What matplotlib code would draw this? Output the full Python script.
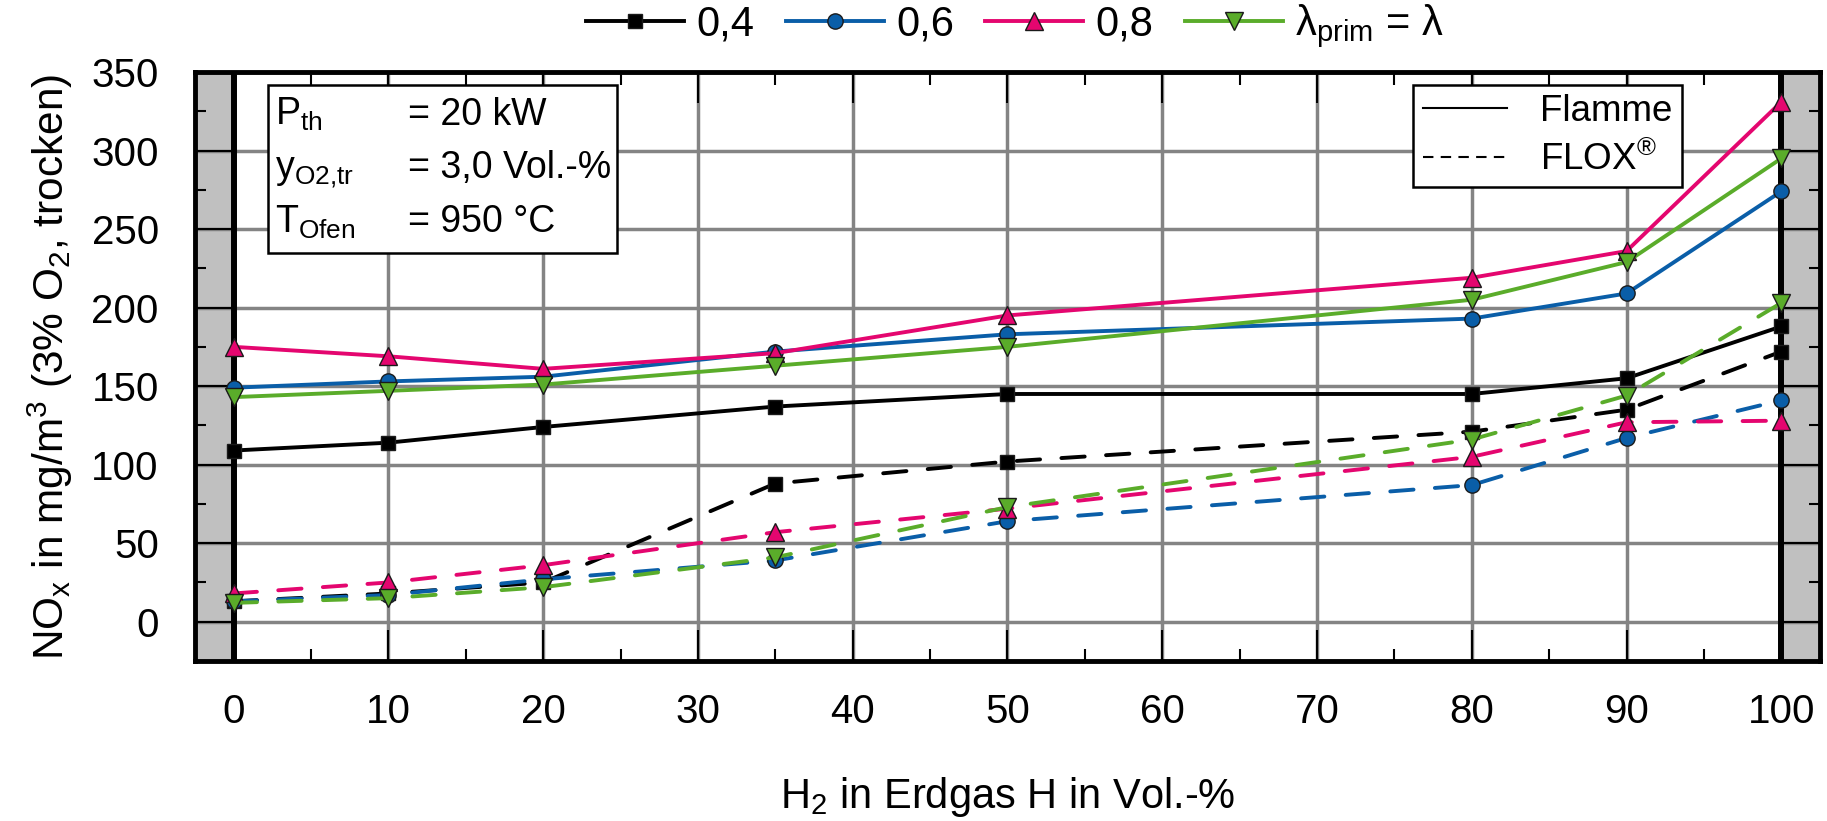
import matplotlib
matplotlib.use('Agg')
import matplotlib.pyplot as plt
from matplotlib.lines import Line2D
from matplotlib.patches import Rectangle
from matplotlib.ticker import MultipleLocator

plt.rcParams['font.family'] = ['Liberation Sans', 'DejaVu Sans']
plt.rcParams['mathtext.fontset'] = 'custom'
plt.rcParams['mathtext.rm'] = 'Liberation Sans'
plt.rcParams['mathtext.it'] = 'Liberation Sans'
plt.rcParams['mathtext.default'] = 'regular'
plt.rcParams['font.size'] = 30

# H2-Anteil im Erdgas in Vol.-%
h2 = [0, 10, 20, 35, 50, 80, 90, 100]

# NOx in mg/m3, Flamme
flamme_04 = [109, 114, 124, 137, 145, 145, 155, 188]
flamme_06 = [149, 153, 156, 172, 183, 193, 209, 274]
flamme_08 = [175, 169, 161, 171, 195, 219, 236, 331]
flamme_lam = [143, 147, 151, 163, 175, 205, 229, 295]

# NOx in mg/m3, FLOX
flox_04 = [13, 18, 25, 88, 102, 121, 135, 172]
flox_06 = [13, 17, 27, 39, 64, 87, 117, 141]
flox_08 = [18, 25, 36, 57, 72, 105, 127, 128]
flox_lam = [12, 15, 22, 41, 73, 116, 144, 203]

labels = ['0,4', '0,6', '0,8', r'λ$_\mathregular{prim}$ = λ']
colors = ['black', '#0a5ea8', '#e4066f', '#5aac2a']
markers = ['s', 'o', '^', 'v']
msizes = [10, 11, 13, 13]

fig = plt.figure(figsize=(18.27, 8.21), dpi=100)
ax = fig.add_axes([0.1067, 0.1949, 0.8895, 0.7174])

ax.set_xlim(-2.5, 102.5)
ax.set_ylim(-25, 350)

# graue Bereiche ausserhalb 0..100 %
ax.axvspan(-2.5, 0, color='#c0c0c0', zorder=0.5, lw=0)
ax.axvspan(100, 102.5, color='#c0c0c0', zorder=0.5, lw=0)

ax.xaxis.set_major_locator(MultipleLocator(10))
ax.xaxis.set_minor_locator(MultipleLocator(5))
ax.yaxis.set_major_locator(MultipleLocator(50))
ax.yaxis.set_minor_locator(MultipleLocator(25))
ax.grid(True, which='major', color='#848484', lw=2.5)

ax.axvline(0, color='black', lw=4.3, zorder=2.6)
ax.axvline(100, color='black', lw=4.3, zorder=2.6)

for s in ax.spines.values():
    s.set_linewidth(3.5)

ax.tick_params(which='both', direction='in', top=True, right=True, width=1.5, labelsize=29)
ax.tick_params(axis='x', which='major', length=22, pad=23)
ax.tick_params(axis='x', which='minor', length=9)
ax.tick_params(axis='y', which='major', length=27, pad=26)
ax.tick_params(axis='y', which='minor', length=8)

handles = []
flamme = [flamme_04, flamme_06, flamme_08, flamme_lam]
flox = [flox_04, flox_06, flox_08, flox_lam]
for i in range(4):
    ln, = ax.plot(h2, flamme[i], color=colors[i], lw=2.8, marker=markers[i],
                  ms=msizes[i], mfc=colors[i], mec='#1a1a1a', mew=1, zorder=3 + i * 0.1,
                  label=labels[i])
    ax.plot(h2, flox[i], color=colors[i], lw=2.8, ls=(0, (6, 5.5)), marker=markers[i],
            ms=msizes[i], mfc=colors[i], mec='#1a1a1a', mew=1, zorder=3 + i * 0.1,
            dash_capstyle='round')
    handles.append(ln)

ax.set_xlabel(r'H$_\mathregular{2}$ in Erdgas H in Vol.-%', labelpad=32)
ax.set_ylabel(r'NO$_\mathregular{x}$ in mg/m$^\mathregular{3}$ (3% O$_\mathregular{2}$, trocken)',
              labelpad=12, fontsize=30.5)

# Legende oben
fig.legend(handles=handles, labels=labels, loc='center', bbox_to_anchor=(0.5556, 0.968),
           ncol=4, frameon=False, handlelength=2.35, handletextpad=0.3, columnspacing=0.75,
           numpoints=1)

# Legende Flamme / FLOX
proxy = [Line2D([], [], color='black', lw=1.5),
         Line2D([], [], color='black', lw=1.5, ls=(0, (5, 3.5)))]
leg = ax.legend(proxy, ['Flamme', r'FLOX$^\mathregular{®}$'], loc='upper right',
                bbox_to_anchor=(0.915, 0.978), fancybox=False, framealpha=1,
                edgecolor='black', handlelength=2.3, handletextpad=0.9,
                labelspacing=0.35, borderpad=0.25, borderaxespad=0, fontsize=26.5)
leg.get_frame().set_linewidth(1.8)
leg.set_zorder(5)

# Randbedingungen
ax.add_patch(Rectangle((0.045, 0.693), 0.215, 0.285, transform=ax.transAxes,
                       facecolor='white', edgecolor='black', lw=1.8, zorder=5))
rows_l = [r'P$_\mathregular{th}$', r'y$_\mathregular{O2{,}tr}$', r'T$_\mathregular{Ofen}$']
rows_r = ['= 20 kW', '= 3,0 Vol.-%', '= 950 °C']
rows_y = [0.910, 0.820, 0.728]
for tl, tr, yy in zip(rows_l, rows_r, rows_y):
    ax.text(0.049, yy, tl, transform=ax.transAxes, va='baseline', ha='left', zorder=6,
            fontsize=27)
    ax.text(0.131, yy, tr, transform=ax.transAxes, va='baseline', ha='left', zorder=6,
            fontsize=27)

fig.savefig('out.png', dpi=100)
